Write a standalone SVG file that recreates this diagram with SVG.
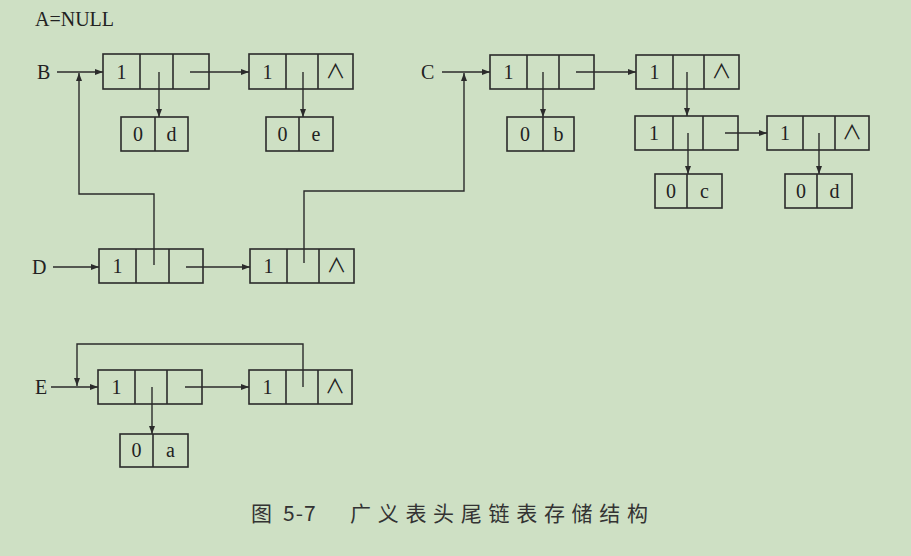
<svg xmlns="http://www.w3.org/2000/svg" width="911" height="556" viewBox="0 0 911 556">
  <style>
    .cell { fill: none; stroke: #2b2b2b; stroke-width: 1.6; }
    .wire { fill: none; stroke: #2b2b2b; stroke-width: 1.4; }
    .t { font-family: "Liberation Serif", "Times New Roman", serif; font-size: 20px; fill: #222; text-anchor: middle; }
    .nil { font-family: "Noto Sans CJK SC", "DejaVu Sans", sans-serif; font-size: 20px; fill: #222; text-anchor: middle; }
    .lbl { font-family: "Liberation Serif", "Times New Roman", serif; font-size: 20px; fill: #222; }
    .cap { font-family: "Noto Sans CJK SC", "Noto Sans", sans-serif; font-size: 21px; fill: #333; }
  </style>
  <defs>
    <marker id="ah" viewBox="0 0 8 6" refX="8" refY="3" markerWidth="8" markerHeight="6" markerUnits="userSpaceOnUse" orient="auto">
      <path d="M0,0 L8,3 L0,6 z" fill="#2b2b2b"/>
    </marker>
  </defs>

  <rect width="911" height="556" fill="#cee0c4"/>

  <text class="lbl" x="35" y="26">A=NULL</text>

  <!-- head labels -->
  <text class="lbl" x="37" y="79">B</text>
  <text class="lbl" x="421" y="79">C</text>
  <text class="lbl" x="32" y="274">D</text>
  <text class="lbl" x="35" y="394">E</text>

  <!-- list B -->
  <g id="B1">
    <rect class="cell" x="103" y="54" width="106" height="35"/>
    <line class="cell" x1="140" y1="54" x2="140" y2="89"/>
    <line class="cell" x1="173" y1="54" x2="173" y2="89"/>
    <text class="t" x="121.5" y="79">1</text>
  </g>
  <g id="B2">
    <rect class="cell" x="249" y="54" width="104" height="35"/>
    <line class="cell" x1="286" y1="54" x2="286" y2="89"/>
    <line class="cell" x1="318" y1="54" x2="318" y2="89"/>
    <text class="t" x="267.5" y="79">1</text>
    <text class="nil" x="335.5" y="79">∧</text>
  </g>
  <g id="Bd">
    <rect class="cell" x="121" y="117" width="67" height="34"/>
    <line class="cell" x1="155" y1="117" x2="155" y2="151"/>
    <text class="t" x="138" y="141">0</text>
    <text class="t" x="171.5" y="141">d</text>
  </g>
  <g id="Be">
    <rect class="cell" x="266" y="117" width="67" height="34"/>
    <line class="cell" x1="299" y1="117" x2="299" y2="151"/>
    <text class="t" x="282.5" y="141">0</text>
    <text class="t" x="316" y="141">e</text>
  </g>

  <!-- list C -->
  <g id="C1">
    <rect class="cell" x="490" y="55" width="104" height="34"/>
    <line class="cell" x1="527" y1="55" x2="527" y2="89"/>
    <line class="cell" x1="559" y1="55" x2="559" y2="89"/>
    <text class="t" x="508.5" y="79">1</text>
  </g>
  <g id="C2">
    <rect class="cell" x="636" y="55" width="103" height="34"/>
    <line class="cell" x1="673" y1="55" x2="673" y2="89"/>
    <line class="cell" x1="704" y1="55" x2="704" y2="89"/>
    <text class="t" x="654.5" y="79">1</text>
    <text class="nil" x="721.5" y="79">∧</text>
  </g>
  <g id="Cb">
    <rect class="cell" x="507" y="117" width="67" height="34"/>
    <line class="cell" x1="543" y1="117" x2="543" y2="151"/>
    <text class="t" x="525" y="141">0</text>
    <text class="t" x="558.5" y="141">b</text>
  </g>
  <g id="C3">
    <rect class="cell" x="635" y="116" width="103" height="34"/>
    <line class="cell" x1="673" y1="116" x2="673" y2="150"/>
    <line class="cell" x1="703" y1="116" x2="703" y2="150"/>
    <text class="t" x="654" y="140">1</text>
  </g>
  <g id="C4">
    <rect class="cell" x="767" y="116" width="102" height="34"/>
    <line class="cell" x1="803" y1="116" x2="803" y2="150"/>
    <line class="cell" x1="835" y1="116" x2="835" y2="150"/>
    <text class="t" x="785" y="140">1</text>
    <text class="nil" x="852" y="140">∧</text>
  </g>
  <g id="Cc">
    <rect class="cell" x="655" y="174" width="67" height="34"/>
    <line class="cell" x1="687" y1="174" x2="687" y2="208"/>
    <text class="t" x="671" y="198">0</text>
    <text class="t" x="704.5" y="198">c</text>
  </g>
  <g id="Cd">
    <rect class="cell" x="785" y="174" width="67" height="34"/>
    <line class="cell" x1="817" y1="174" x2="817" y2="208"/>
    <text class="t" x="801" y="198">0</text>
    <text class="t" x="834.5" y="198">d</text>
  </g>

  <!-- list D -->
  <g id="D1">
    <rect class="cell" x="99" y="249" width="104" height="34"/>
    <line class="cell" x1="136" y1="249" x2="136" y2="283"/>
    <line class="cell" x1="169" y1="249" x2="169" y2="283"/>
    <text class="t" x="117.5" y="273">1</text>
  </g>
  <g id="D2">
    <rect class="cell" x="250" y="249" width="104" height="34"/>
    <line class="cell" x1="287" y1="249" x2="287" y2="283"/>
    <line class="cell" x1="319" y1="249" x2="319" y2="283"/>
    <text class="t" x="268.5" y="273">1</text>
    <text class="nil" x="336.5" y="273">∧</text>
  </g>

  <!-- list E -->
  <g id="E1">
    <rect class="cell" x="98" y="370" width="104" height="34"/>
    <line class="cell" x1="135" y1="370" x2="135" y2="404"/>
    <line class="cell" x1="167" y1="370" x2="167" y2="404"/>
    <text class="t" x="116.5" y="394">1</text>
  </g>
  <g id="E2">
    <rect class="cell" x="249" y="370" width="103" height="34"/>
    <line class="cell" x1="286" y1="370" x2="286" y2="404"/>
    <line class="cell" x1="318" y1="370" x2="318" y2="404"/>
    <text class="t" x="267.5" y="394">1</text>
    <text class="nil" x="335" y="394">∧</text>
  </g>
  <g id="Ea">
    <rect class="cell" x="120" y="434" width="68" height="33"/>
    <line class="cell" x1="153" y1="434" x2="153" y2="467"/>
    <text class="t" x="136.5" y="457">0</text>
    <text class="t" x="170.5" y="457">a</text>
  </g>

  <!-- connectors -->
  <g id="links" class="wire">
    <line x1="57" y1="72" x2="103" y2="72" marker-end="url(#ah)"/>
    <line x1="159" y1="72" x2="159" y2="117" marker-end="url(#ah)"/>
    <line x1="190" y1="72" x2="249" y2="72" marker-end="url(#ah)"/>
    <line x1="303" y1="72" x2="303" y2="117" marker-end="url(#ah)"/>

    <line x1="442" y1="72" x2="490" y2="72" marker-end="url(#ah)"/>
    <line x1="543" y1="72" x2="543" y2="117" marker-end="url(#ah)"/>
    <line x1="576" y1="72" x2="636" y2="72" marker-end="url(#ah)"/>
    <line x1="687" y1="72" x2="687" y2="116" marker-end="url(#ah)"/>
    <line x1="688" y1="133" x2="688" y2="174" marker-end="url(#ah)"/>
    <line x1="725" y1="133" x2="767" y2="133" marker-end="url(#ah)"/>
    <line x1="819" y1="133" x2="819" y2="174" marker-end="url(#ah)"/>

    <line x1="53" y1="267" x2="99" y2="267" marker-end="url(#ah)"/>
    <polyline points="154,265 154,194 79,194 79,73" marker-end="url(#ah)"/>
    <line x1="186" y1="267" x2="250" y2="267" marker-end="url(#ah)"/>
    <polyline points="304,263 304,191 464,191 464,73" marker-end="url(#ah)"/>

    <line x1="51" y1="387" x2="98" y2="387" marker-end="url(#ah)"/>
    <line x1="152" y1="387" x2="152" y2="434" marker-end="url(#ah)"/>
    <line x1="185" y1="387" x2="249" y2="387" marker-end="url(#ah)"/>
    <polyline points="303,387 303,344 77,344 77,386" marker-end="url(#ah)"/>
  </g>

  <text class="cap" x="251" y="521">图</text>
  <text class="cap" x="283" y="521" letter-spacing="1">5-7</text>
  <text class="cap" x="350" y="521" textLength="298" lengthAdjust="spacing">广义表头尾链表存储结构</text>
</svg>
